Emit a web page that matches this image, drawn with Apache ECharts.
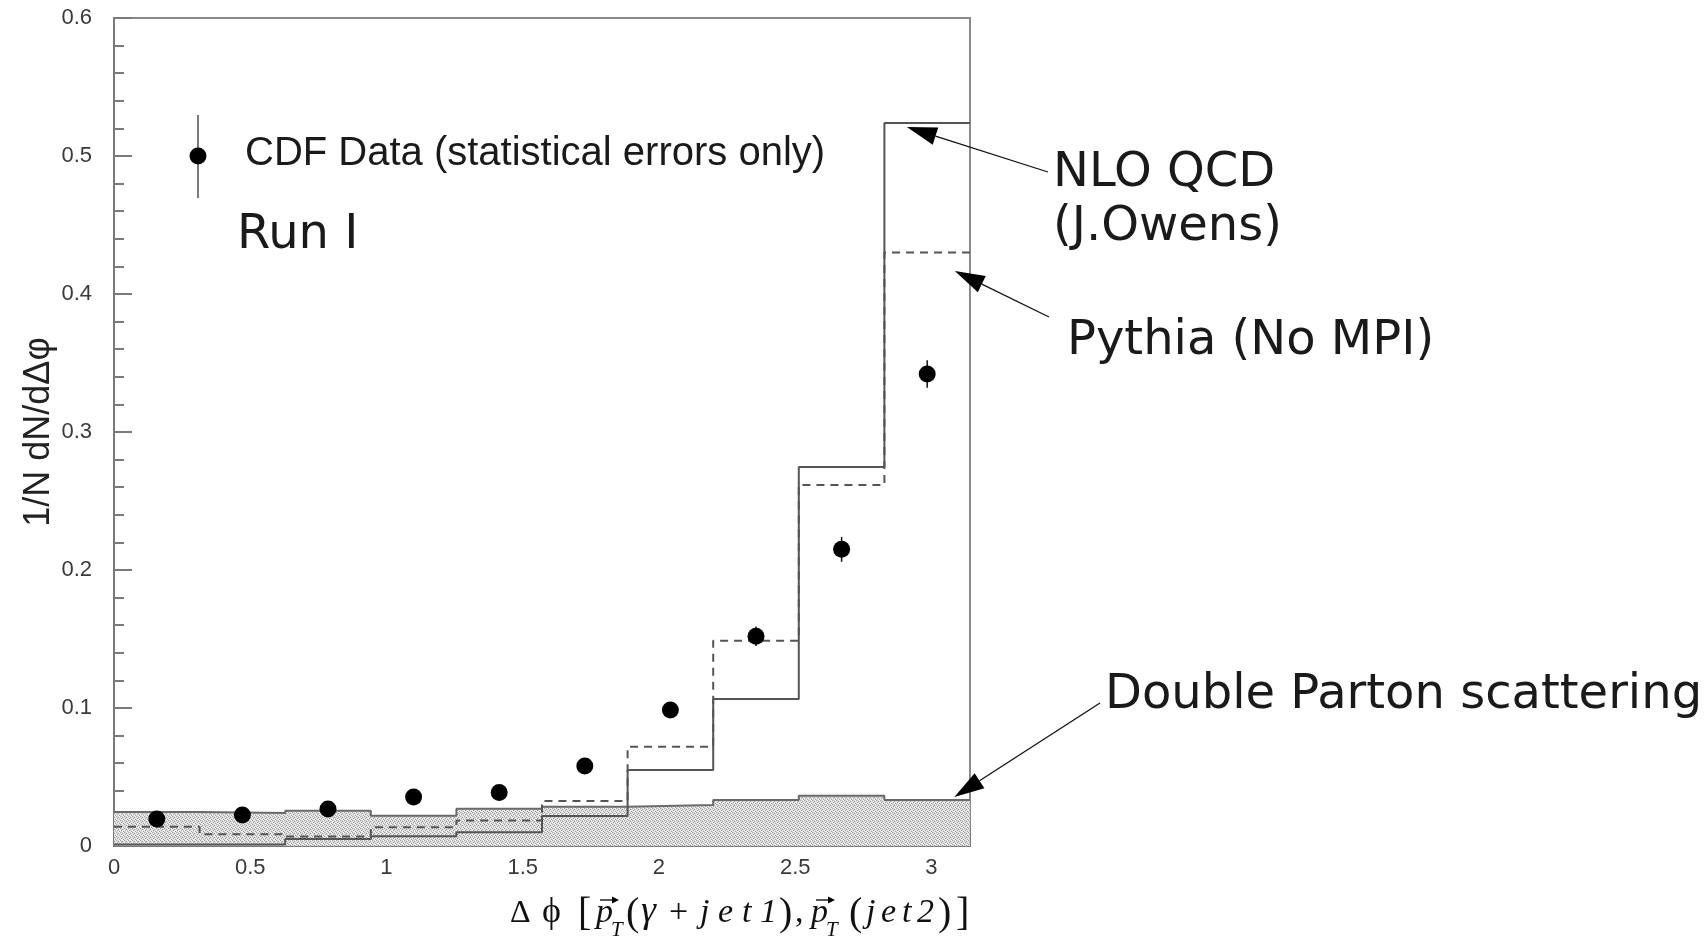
<!DOCTYPE html>
<html>
<head>
<meta charset="utf-8">
<script src="https://cdn.jsdelivr.net/npm/echarts@6/dist/echarts.min.js"></script>
<style>
  html, body { margin: 0; padding: 0; background: #fff; }
  #chart { width: 1708px; height: 937px; }
</style>
</head>
<body>
<div id="chart"></div>
<script>
// Δφ between (γ + leading jet) and the second jet: 10 equal bins over [0, π]
const nBins = 10;
const phiMax = Math.PI;

// CDF Run I data, 1/N dN/dΔφ per bin, statistical errors only
const cdfValues = [0.0196, 0.0225, 0.0268, 0.0355, 0.0388, 0.058, 0.0986, 0.152, 0.215, 0.342];
const cdfErrors = [0.003, 0.003, 0.003, 0.003, 0.003, 0.003, 0.004, 0.007, 0.009, 0.010];
// NLO QCD prediction (J. Owens)
const nloValues = [0.001, 0.001, 0.005, 0.007, 0.010, 0.0217, 0.055, 0.1065, 0.2746, 0.524];
// Pythia without multiple parton interactions
const pythiaValues = [0.014, 0.0085, 0.0068, 0.0135, 0.0184, 0.0326, 0.072, 0.1488, 0.2616, 0.430];
// Double parton scattering contribution (shaded band)
const dpsValues = [0.0246, 0.024, 0.0256, 0.022, 0.027, 0.0285, 0.0297, 0.0333, 0.0365, 0.0333];

const xTickLabels = ['0', '0.5', '1', '1.5', '2', '2.5', '3'];
const yTickLabels = ['0', '0.1', '0.2', '0.3', '0.4', '0.5', '0.6'];

const binWidth = phiMax / nBins;
const binCenter = i => (i + 0.5) * binWidth;

// histogram outline: two vertices per bin, at its left and right edge
function histPoints(vals) {
  const pts = [];
  vals.forEach((v, i) => { pts.push([i * binWidth, v]); pts.push([(i + 1) * binWidth, v]); });
  return pts;
}

// stipple texture for the shaded band
const stipple = document.createElement('canvas');
stipple.width = 4; stipple.height = 4;
(function () {
  const g = stipple.getContext('2d');
  g.fillStyle = '#dcdcdc'; g.fillRect(0, 0, 4, 4);
  g.fillStyle = '#a2a2a2';
  [[0, 0], [2, 1], [1, 2], [3, 3]].forEach(([a, b]) => g.fillRect(a, b, 1, 1));
  g.fillStyle = '#f6f6f6';
  [[2, 3], [0, 2], [3, 0]].forEach(([a, b]) => g.fillRect(a, b, 1, 1));
})();

const chart = echarts.init(document.getElementById('chart'), null, { renderer: 'canvas' });

const labelFont = { fontFamily: '"Liberation Sans", Arial, sans-serif', fontSize: 22, color: '#3a3a3a' };

const option = {
  animation: false,
  backgroundColor: '#fff',
  grid: {
    left: 114, right: 738, top: 18, bottom: 91,
    outerBoundsMode: 'none', containLabel: false,
    show: true, borderColor: '#8a8a8a', borderWidth: 2, backgroundColor: 'transparent'
  },
  xAxis: {
    type: 'value', min: 0, max: phiMax, interval: 0.5,
    axisLine: { show: true, lineStyle: { color: '#7a7a7a', width: 2 } },
    axisTick: { show: true, inside: true, length: 18, lineStyle: { color: '#7a7a7a', width: 2 } },
    minorTick: { show: true, splitNumber: 5, length: 10, lineStyle: { color: '#7a7a7a', width: 2 } },
    splitLine: { show: false },
    axisLabel: Object.assign({
      margin: 11, showMaxLabel: false,
      formatter: v => { const k = Math.round(v / 0.5); return Math.abs(v - k * 0.5) < 1e-9 ? xTickLabels[k] : ''; }
    }, labelFont)
  },
  yAxis: {
    type: 'value', min: 0, max: 0.6, interval: 0.1,
    name: '1/N dN/dΔφ', nameLocation: 'middle', nameRotate: 90, nameGap: 57,
    nameMoveOverlap: false,
    nameTextStyle: { fontFamily: '"Liberation Sans", Arial, sans-serif', fontSize: 36, color: '#222' },
    axisLine: { show: true, lineStyle: { color: '#7a7a7a', width: 2 } },
    axisTick: { show: true, inside: true, length: 18, lineStyle: { color: '#7a7a7a', width: 2 } },
    minorTick: { show: true, splitNumber: 5, length: 10, lineStyle: { color: '#7a7a7a', width: 2 } },
    splitLine: { show: false },
    axisLabel: Object.assign({
      margin: 22,
      formatter: v => yTickLabels[Math.round(v / 0.1)]
    }, labelFont)
  },
  series: [
    {
      name: 'Double Parton scattering', type: 'line', data: histPoints(dpsValues),
      symbol: 'none', z: 2,
      lineStyle: { color: '#6a6a6a', width: 2 },
      areaStyle: { color: { image: stipple, repeat: 'repeat' }, opacity: 1 }
    },
    {
      name: 'NLO QCD', type: 'line', data: histPoints(nloValues),
      symbol: 'none', z: 3,
      lineStyle: { color: '#555', width: 2 }
    },
    {
      name: 'Pythia (No MPI)', type: 'line', data: histPoints(pythiaValues),
      symbol: 'none', z: 3,
      lineStyle: { color: '#555', width: 2, type: [8, 6] }
    },
    {
      name: 'CDF errors', type: 'custom', z: 4,
      data: cdfValues.map((v, i) => [binCenter(i), v, cdfErrors[i]]),
      encode: { x: 0, y: 1 },
      renderItem: (params, api) => {
        const x = api.value(0), y = api.value(1), e = api.value(2);
        const p1 = api.coord([x, y + e]), p2 = api.coord([x, y - e]);
        return { type: 'line', shape: { x1: p1[0], y1: p1[1], x2: p2[0], y2: p2[1] },
                 style: { stroke: '#111', lineWidth: 1.5 } };
      }
    },
    {
      name: 'CDF Data', type: 'scatter', z: 5,
      data: cdfValues.map((v, i) => [binCenter(i), v]),
      symbol: 'circle', symbolSize: 17,
      itemStyle: { color: '#000', opacity: 1 }
    }
  ]
};

chart.setOption(option);

// annotations: arrows point at the histograms through the grid's own coordinate system
const toPx = (x, y) => chart.convertToPixel({ gridIndex: 0 }, [x, y]);

function arrow(from, to, head, half, width) {
  head = head || 30; half = half || 9;
  const dx = to[0] - from[0], dy = to[1] - from[1];
  const L = Math.hypot(dx, dy), ux = dx / L, uy = dy / L;
  const bx = to[0] - ux * head, by = to[1] - uy * head;
  return [
    { type: 'line', z: 10, shape: { x1: from[0], y1: from[1], x2: bx, y2: by },
      style: { stroke: '#111', lineWidth: width || 1.3 } },
    { type: 'polygon', z: 10,
      shape: { points: [to, [bx - uy * half, by + ux * half], [bx + uy * half, by - ux * half]] },
      style: { fill: '#000' } }
  ];
}

const annFont = '48px "DejaVu Sans", sans-serif';
function label(text, x, y, font) {
  return { type: 'text', x: x, y: y, z: 10,
           style: { text: text, font: font || annFont, fill: '#1a1a1a', verticalAlign: 'middle', align: 'left' } };
}

// axis title set piece by piece on a common baseline (math style)
const measure = document.createElement('canvas').getContext('2d');
const serif = '"Liberation Serif", "DejaVu Serif", serif';
const fontOf = (size, italic) => (italic ? 'italic ' : '') + size + 'px ' + serif;
function middleToBaseline(font, size) {
  measure.font = font;
  const m = measure.measureText('Hg');
  if (m.fontBoundingBoxAscent) return (m.fontBoundingBoxAscent - m.fontBoundingBoxDescent) / 2;
  return 0.34 * size;
}
function piece(text, x, baseline, size, italic) {
  const font = fontOf(size, italic);
  return { type: 'text', x: x, y: baseline - middleToBaseline(font, size), z: 10,
           style: { text: text, font: font, fill: '#111', verticalAlign: 'middle', align: 'left' } };
}
// math-italic word: letters at natural width, spread evenly between x0 and x1
function spread(word, x0, x1, baseline, size) {
  const font = fontOf(size, true);
  measure.font = font;
  const chars = word.split('');
  const widths = chars.map(c => measure.measureText(c).width);
  const total = widths.reduce((a, b) => a + b, 0);
  const gap = chars.length > 1 ? (x1 - x0 - total) / (chars.length - 1) : 0;
  let x = x0;
  return chars.map((c, k) => { const p = piece(c, x, baseline, size, true); x += widths[k] + gap; return p; });
}
const B = 925, F = 34, FP = 40, FS = 21;
const xTitle = [].concat(
  [piece('Δ', 510, B, F - 2, false), piece('ϕ', 542, B, F + 2, false), piece('[', 578, B + 3, FP, false)],
  [piece('p', 596, B, F, true), piece('T', 611, B + 12, FS, true)],
  arrow([600, 900], [619, 900], 7, 3.5, 1.4),
  [piece('(', 626, B + 3, FP, false), piece('γ', 641, B, F + 4, true), piece('+', 669, B, F, false)],
  spread('jet1', 700, 777, B, F),
  [piece(')', 779, B + 3, FP, false), piece(',', 795, B, F, false)],
  [piece('p', 811, B, F, true), piece('T', 826, B + 12, FS, true)],
  arrow([816, 900], [835, 900], 7, 3.5, 1.4),
  [piece('(', 849, B + 3, FP, false)],
  spread('jet2', 866, 934, B, F),
  [piece(')', 938, B + 3, FP, false), piece(']', 956, B + 3, FP, false)]
);

const graphics = [].concat(
  [
    // legend entry for the data points
    { type: 'line', z: 10, shape: { x1: 198, y1: 115, x2: 198, y2: 198 }, style: { stroke: '#333', lineWidth: 1.3 } },
    { type: 'circle', z: 10, shape: { cx: 198, cy: 156, r: 8.5 }, style: { fill: '#000' } },
    label('CDF Data (statistical errors only)', 245, 154, '40px "Liberation Sans", Arial, sans-serif'),
    label('Run I', 237, 236),
    label('NLO QCD', 1053, 174),
    label('(J.Owens)', 1053, 228),
    label('Pythia (No MPI)', 1067, 342),
    label('Double Parton scattering', 1105, 696)
  ],
  xTitle,
  arrow([1048, 172], toPx(2.91, 0.521)),
  arrow([1049, 317], toPx(3.086, 0.4167)),
  arrow([1100, 703], toPx(3.084, 0.0355))
);

chart.setOption({ graphic: graphics });
</script>
</body>
</html>
